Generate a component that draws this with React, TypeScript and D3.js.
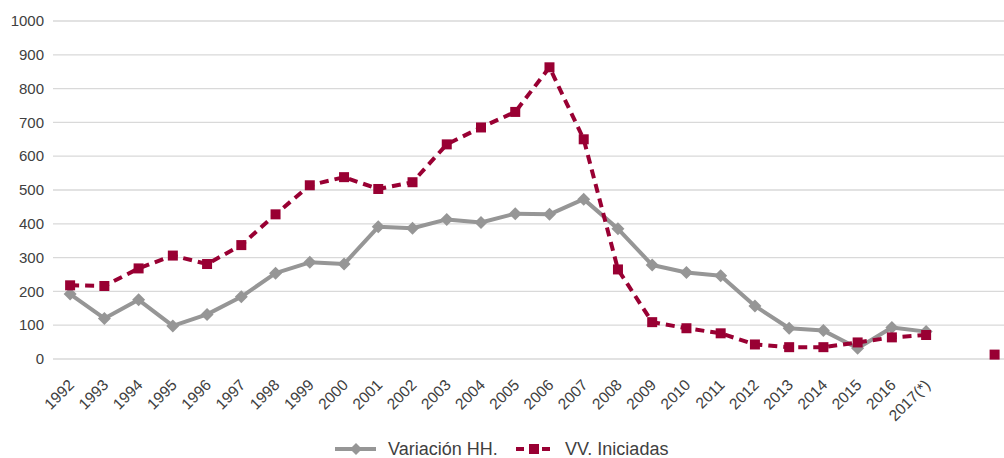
import React from 'react';
import * as d3 from 'd3';

// categories along the x axis (two trailing empty slots as in the source)
const categories = [
  '1992', '1993', '1994', '1995', '1996', '1997', '1998', '1999', '2000',
  '2001', '2002', '2003', '2004', '2005', '2006', '2007', '2008', '2009',
  '2010', '2011', '2012', '2013', '2014', '2015', '2016', '2017(*)', '', '',
];

const variacionHH = [
  192, 120, 175, 98, 132, 184, 254, 286, 281,
  391, 387, 413, 404, 430, 428, 473, 385, 278,
  256, 246, 157, 91, 84, 32, 93, 81, null, null,
];

const vvIniciadas = [
  218, 216, 268, 306, 281, 337, 428, 514, 538,
  503, 523, 635, 685, 731, 863, 650, 265, 109,
  91, 76, 43, 35, 35, 49, 64, 71, null, 13,
];

const yTicks = [0, 100, 200, 300, 400, 500, 600, 700, 800, 900, 1000];

const seriesNames = ['Variación HH.', 'VV. Iniciadas'];

const App = () => {
  const svgWidth = 1004;
  const svgHeight = 458;
  const plotLeft = 53;
  const step = 34.24;

  const fontFamily = '"Liberation Sans", Arial, sans-serif';
  const textColor = '#404040';
  const gridColor = '#d9d9d9';
  const grayColor = '#969696';
  const redColor = '#990033';

  const x = d3.scalePoint<number>()
    .domain(categories.map((_, i) => i))
    .range([plotLeft, plotLeft + step * categories.length])
    .padding(0.5);

  const y = d3.scaleLinear()
    .domain([0, 1000])
    .range([359, 21]);

  const line = d3.line<number | null>()
    .defined(d => d != null)
    .x((_, i) => x(i) as number)
    .y(d => y(d as number));

  const diamond = (cx: number, cy: number, r: number) =>
    `M${cx},${cy - r}L${cx + r},${cy}L${cx},${cy + r}L${cx - r},${cy}Z`;

  const legendY = 449;

  return (
    <svg width={svgWidth} height={svgHeight}
      style={{ position: 'absolute', left: 0, top: 0 }}
      fontFamily={fontFamily}>
      <rect width={svgWidth} height={svgHeight} fill="#fff" />

      {/* grid + y axis */}
      <g className="axis axis--y" fontSize={15} textAnchor="end" fill={textColor}>
        {yTicks.map(t => (
          <g key={t} transform={`translate(0,${y(t)})`}>
            <line x1={plotLeft} x2={svgWidth} stroke={gridColor} strokeWidth={1.3} />
            <text x={44} dy="0.35em">{t}</text>
          </g>
        ))}
      </g>

      {/* x axis labels */}
      <g className="axis axis--x" fontSize={15.5} textAnchor="end" fill={textColor}>
        {categories.map((c, i) => c ? (
          <text key={i}
            transform={`translate(${(x(i) as number) + 5},386) rotate(-45)`}>{c}</text>
        ) : null)}
      </g>

      {/* Variación HH. */}
      <path d={line(variacionHH) || ''} fill="none" stroke={grayColor}
        strokeWidth={4} strokeLinejoin="round" />
      {variacionHH.map((d, i) => d == null ? null : (
        <path key={'g' + i} d={diamond(x(i) as number, y(d), 6.5)} fill={grayColor} />
      ))}

      {/* VV. Iniciadas */}
      <path d={line(vvIniciadas) || ''} fill="none" stroke={redColor}
        strokeWidth={4} strokeDasharray="9,6" />
      {vvIniciadas.map((d, i) => d == null ? null : (
        <rect key={'r' + i} x={(x(i) as number) - 5} y={y(d) - 5}
          width={10} height={10} fill={redColor} />
      ))}

      {/* legend */}
      <g fontSize={18} fill={textColor}>
        <line x1={335} x2={376} y1={legendY} y2={legendY} stroke={grayColor} strokeWidth={4} />
        <path d={diamond(356, legendY, 6)} fill={grayColor} />
        <text x={388} y={legendY} dy="0.35em">{seriesNames[0]}</text>

        <line x1={516} x2={552} y1={legendY} y2={legendY} stroke={redColor}
          strokeWidth={4} strokeDasharray="8,5" />
        <rect x={529} y={legendY - 5} width={10} height={10} fill={redColor} />
        <text x={565} y={legendY} dy="0.35em">{seriesNames[1]}</text>
      </g>
    </svg>
  );
};

export default App;
